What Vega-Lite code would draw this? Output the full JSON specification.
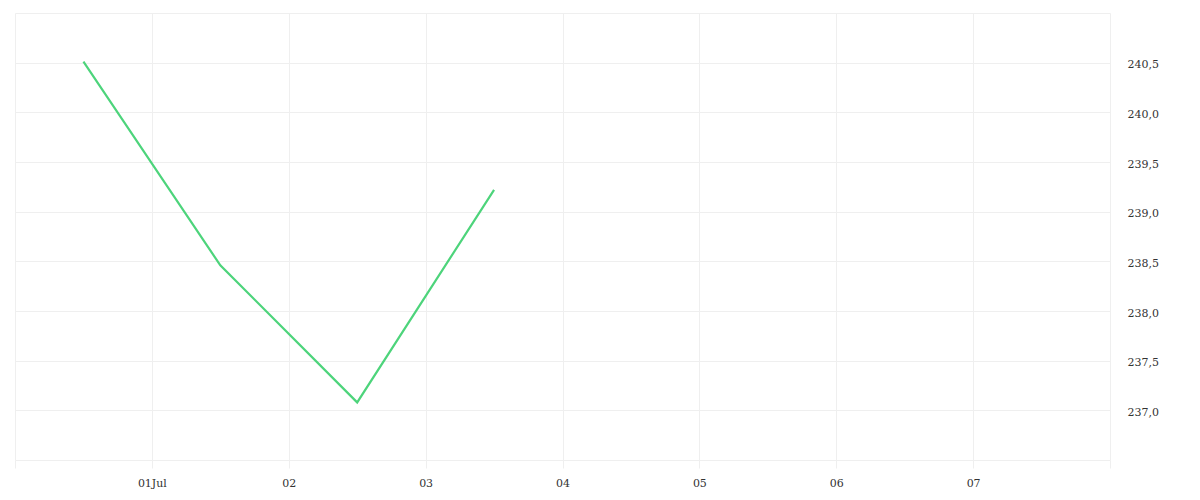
{
  "$schema": "https://vega.github.io/schema/vega-lite/v6.json",
  "width": 1095,
  "height": 447,
  "autosize": {"type": "none"},
  "padding": {"left": 15, "top": 13, "right": 90, "bottom": 40},
  "data": {
    "values": [
      {"time": "2024-06-30T12:00:00", "value": 240.51},
      {"time": "2024-07-01T12:00:00", "value": 238.46},
      {"time": "2024-07-02T12:00:00", "value": 237.08},
      {"time": "2024-07-03T12:00:00", "value": 239.22}
    ]
  },
  "mark": {"type": "line", "color": "#4dd47b", "strokeWidth": 2.2},
  "encoding": {
    "x": {
      "field": "time",
      "type": "temporal",
      "scale": {
        "domain": [
          {"year": 2024, "month": 6, "date": 30},
          {"year": 2024, "month": 7, "date": 8}
        ]
      },
      "axis": {
        "title": null,
        "domain": false,
        "grid": true,
        "gridColor": "#efefef",
        "tickColor": "#efefef",
        "tickSize": 8,
        "labelPadding": 9,
        "values": [
          {"year": 2024, "month": 6, "date": 30},
          {"year": 2024, "month": 7, "date": 1},
          {"year": 2024, "month": 7, "date": 2},
          {"year": 2024, "month": 7, "date": 3},
          {"year": 2024, "month": 7, "date": 4},
          {"year": 2024, "month": 7, "date": 5},
          {"year": 2024, "month": 7, "date": 6},
          {"year": 2024, "month": 7, "date": 7},
          {"year": 2024, "month": 7, "date": 8}
        ],
        "labelExpr": "date(datum.value) == 30 || date(datum.value) == 8 ? '' : (date(datum.value) == 1 ? timeFormat(datum.value, '%d%b') : timeFormat(datum.value, '%d'))"
      }
    },
    "y": {
      "field": "value",
      "type": "quantitative",
      "scale": {"domain": [236.5, 241], "zero": false, "nice": false},
      "axis": {
        "title": null,
        "orient": "right",
        "domain": false,
        "ticks": false,
        "grid": true,
        "gridColor": "#efefef",
        "labelPadding": 17,
        "labelOffset": 2,
        "values": [236.5, 237, 237.5, 238, 238.5, 239, 239.5, 240, 240.5, 241],
        "labelExpr": "datum.value == 236.5 || datum.value == 241 ? '' : replace(format(datum.value, '.1f'), '.', ',')"
      }
    }
  },
  "config": {
    "view": {"stroke": null},
    "axis": {
      "labelFont": "DejaVu Serif",
      "labelFontSize": 11,
      "labelColor": "#333333"
    }
  }
}
